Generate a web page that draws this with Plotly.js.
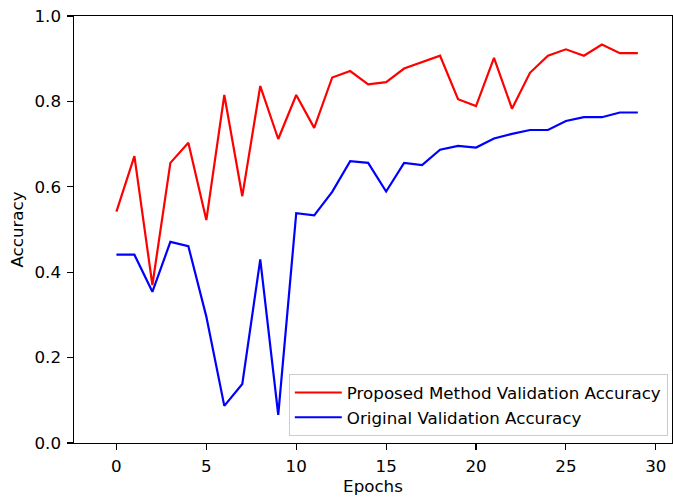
<!DOCTYPE html>
<html>
<head>
<meta charset="utf-8">
<script src="https://cdn.plot.ly/plotly-3.0.1.min.js"></script>
<style>html,body{margin:0;padding:0;background:#fff;}#chart{width:673px;height:499px;}</style>
</head>
<body>
<div id="chart"></div>
<script>
const epochs = Array.from({length: 30}, (_, i) => i);
const proposedAcc = [0.542, 0.672, 0.370, 0.656, 0.703, 0.522, 0.815, 0.578, 0.836, 0.712,
                     0.815, 0.738, 0.856, 0.871, 0.840, 0.845, 0.877, 0.892, 0.907, 0.805,
                     0.789, 0.902, 0.783, 0.867, 0.907, 0.922, 0.907, 0.933, 0.913, 0.913];
const originalAcc = [0.441, 0.441, 0.354, 0.471, 0.461, 0.296, 0.087, 0.138, 0.430, 0.066,
                     0.538, 0.533, 0.588, 0.660, 0.656, 0.589, 0.656, 0.651, 0.687, 0.696,
                     0.692, 0.713, 0.724, 0.733, 0.733, 0.754, 0.763, 0.763, 0.774, 0.774];
const seriesNames = ['Proposed Method Validation Accuracy', 'Original Validation Accuracy'];
const xTicks = [0, 5, 10, 15, 20, 25, 30];
const yTicks = [0.0, 0.2, 0.4, 0.6, 0.8, 1.0];

const fontFamily = 'DejaVu Sans, sans-serif';
const fs = 16.7;
const traces = [
  {x: epochs, y: proposedAcc, name: seriesNames[0], mode: 'lines', line: {color: '#ff0000', width: 2.2}},
  {x: epochs, y: originalAcc, name: seriesNames[1], mode: 'lines', line: {color: '#0000ff', width: 2.2}}
];
const axisCommon = {
  showline: true, mirror: true, linecolor: '#000', linewidth: 1.1,
  ticks: 'outside', ticklen: 5.5, tickwidth: 1.1, tickcolor: '#000',
  showgrid: false, zeroline: false,
  tickfont: {family: fontFamily, size: fs, color: '#000'}
};
const layout = {
  width: 673, height: 499,
  margin: {l: 74, r: 1, t: 16, b: 56},
  paper_bgcolor: '#fff', plot_bgcolor: '#fff',
  showlegend: true,
  xaxis: Object.assign({}, axisCommon, {
    range: [-2.36, 30.9], tickvals: xTicks, ticktext: xTicks.map(String),
    ticklabelstandoff: 2,
    title: {text: 'Epochs', font: {family: fontFamily, size: fs, color: '#000'}, standoff: 3}
  }),
  yaxis: Object.assign({}, axisCommon, {
    range: [0, 1.0], tickvals: yTicks, ticktext: yTicks.map(v => v.toFixed(1)),
    ticklabelstandoff: 3,
    title: {text: 'Accuracy', font: {family: fontFamily, size: fs, color: '#000'}, standoff: 6}
  }),
  legend: {
    x: 0.993, y: 0.016, xanchor: 'right', yanchor: 'bottom',
    bgcolor: 'rgba(255,255,255,0.85)', bordercolor: '#cccccc', borderwidth: 1,
    font: {family: fontFamily, size: fs, color: '#000'},
    tracegroupgap: 0, itemwidth: 47
  }
};
Plotly.newPlot('chart', traces, layout, {displayModeBar: false, staticPlot: true});
</script>
</body>
</html>
